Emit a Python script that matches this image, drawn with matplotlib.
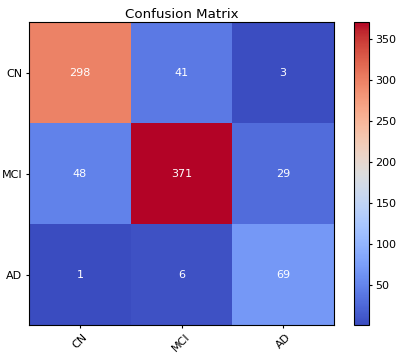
import numpy as np
import matplotlib.pyplot as plt

classes = ['CN', 'MCI', 'AD']
cm = np.array([
    [298, 41, 3],
    [48, 371, 29],
    [1, 6, 69],
])
cbar_ticks = [50, 100, 150, 200, 250, 300, 350]

fig = plt.figure(figsize=(4.0, 3.54), dpi=100)
ax = fig.add_axes([29 / 400, 1 - 325 / 354, 305 / 400, 303 / 354])
cax = fig.add_axes([353.5 / 400, 1 - 325 / 354, 15 / 400, 303 / 354])

im = ax.imshow(cm, cmap='coolwarm', aspect='auto', interpolation='nearest')
ax.set_title('Confusion Matrix', fontsize=9.6, pad=3)

ax.set_xticks(np.arange(len(classes)))
ax.set_yticks(np.arange(len(classes)))
ax.set_xticklabels(classes, rotation=45, fontsize=8)
ax.set_yticklabels(classes, fontsize=8)
ax.tick_params(length=2.5, pad=2.5)

for i in range(cm.shape[0]):
    for j in range(cm.shape[1]):
        ax.text(j, i, str(cm[i, j]), ha='center', va='center',
                color='white', fontsize=8)

cbar = fig.colorbar(im, cax=cax)
cbar.set_ticks(cbar_ticks)
cbar.ax.tick_params(labelsize=8, length=2.5, pad=2.5)

fig.savefig('out.png', dpi=100)
